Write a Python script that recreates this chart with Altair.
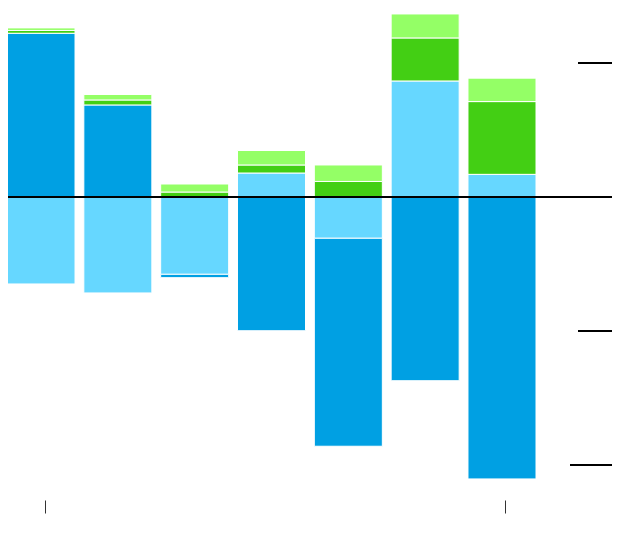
import altair as alt
import pandas as pd

periods = ["2011", "2012", "2013", "2014", "2015", "2016", "2017"]
series = ["Light blue", "Dark blue", "Dark green", "Light green"]
light_blue = [-6.49, -7.16, -5.77, 1.79, -3.08, 8.66, 1.69]
dark_blue = [12.22, 6.87, -0.25, -9.98, -15.52, -13.71, -21.04]
dark_green = [0.21, 0.37, 0.37, 0.60, 1.16, 3.21, 5.43]
light_green = [0.19, 0.41, 0.60, 1.08, 1.23, 1.79, 1.75]
colors = ["#66d7ff", "#00a0e3", "#43cf14", "#94ff66"]

tick_values = [10, -10]
long_tick_values = [-20]
x_tick_periods = ["2011", "2017"]

rows = []
for name, vals in zip(series, [light_blue, dark_blue, dark_green, light_green]):
    for p, v in zip(periods, vals):
        rows.append({"period": p, "series": name, "value": v, "order": series.index(name)})
df = pd.DataFrame(rows)

W, H = 604, 492
y_scale = alt.Scale(domain=[-22.6119, 14.1045], nice=False, zero=False)
x_scale = alt.Scale(domain=periods, range=[-1, 528], paddingInner=0.1146, paddingOuter=0)

bars = alt.Chart(df).mark_bar(stroke="white", strokeWidth=1).encode(
    x=alt.X("period:N", scale=x_scale, sort=periods,
            axis=alt.Axis(values=x_tick_periods, labels=False, domain=False, grid=False,
                          ticks=True, tickSize=13, tickColor="#333", tickWidth=1,
                          tickOffset=3.5, title=None)),
    y=alt.Y("value:Q", stack="zero", scale=y_scale, axis=None),
    color=alt.Color("series:N", scale=alt.Scale(domain=series, range=colors), legend=None),
    order=alt.Order("order:Q"),
)

zero = alt.Chart(pd.DataFrame({"v": [0]})).mark_rule(color="black", strokeWidth=2).encode(
    y=alt.Y("v:Q", scale=y_scale),
    x=alt.value(0), x2=alt.value(W),
)

ticks = alt.Chart(pd.DataFrame({"v": tick_values})).mark_rule(color="black", strokeWidth=2).encode(
    y=alt.Y("v:Q", scale=y_scale),
    x=alt.value(570), x2=alt.value(W),
)

long_ticks = alt.Chart(pd.DataFrame({"v": long_tick_values})).mark_rule(color="black", strokeWidth=2).encode(
    y=alt.Y("v:Q", scale=y_scale),
    x=alt.value(562), x2=alt.value(W),
)

chart = alt.layer(bars, zero, ticks, long_ticks).properties(
    width=W, height=H,
    padding={"left": 0, "top": 0, "right": 0, "bottom": 20},
    autosize=alt.AutoSizeParams(type="none"),
).configure_view(stroke=None)

chart.save("out.html", embed_options={"renderer": "svg", "actions": False})
